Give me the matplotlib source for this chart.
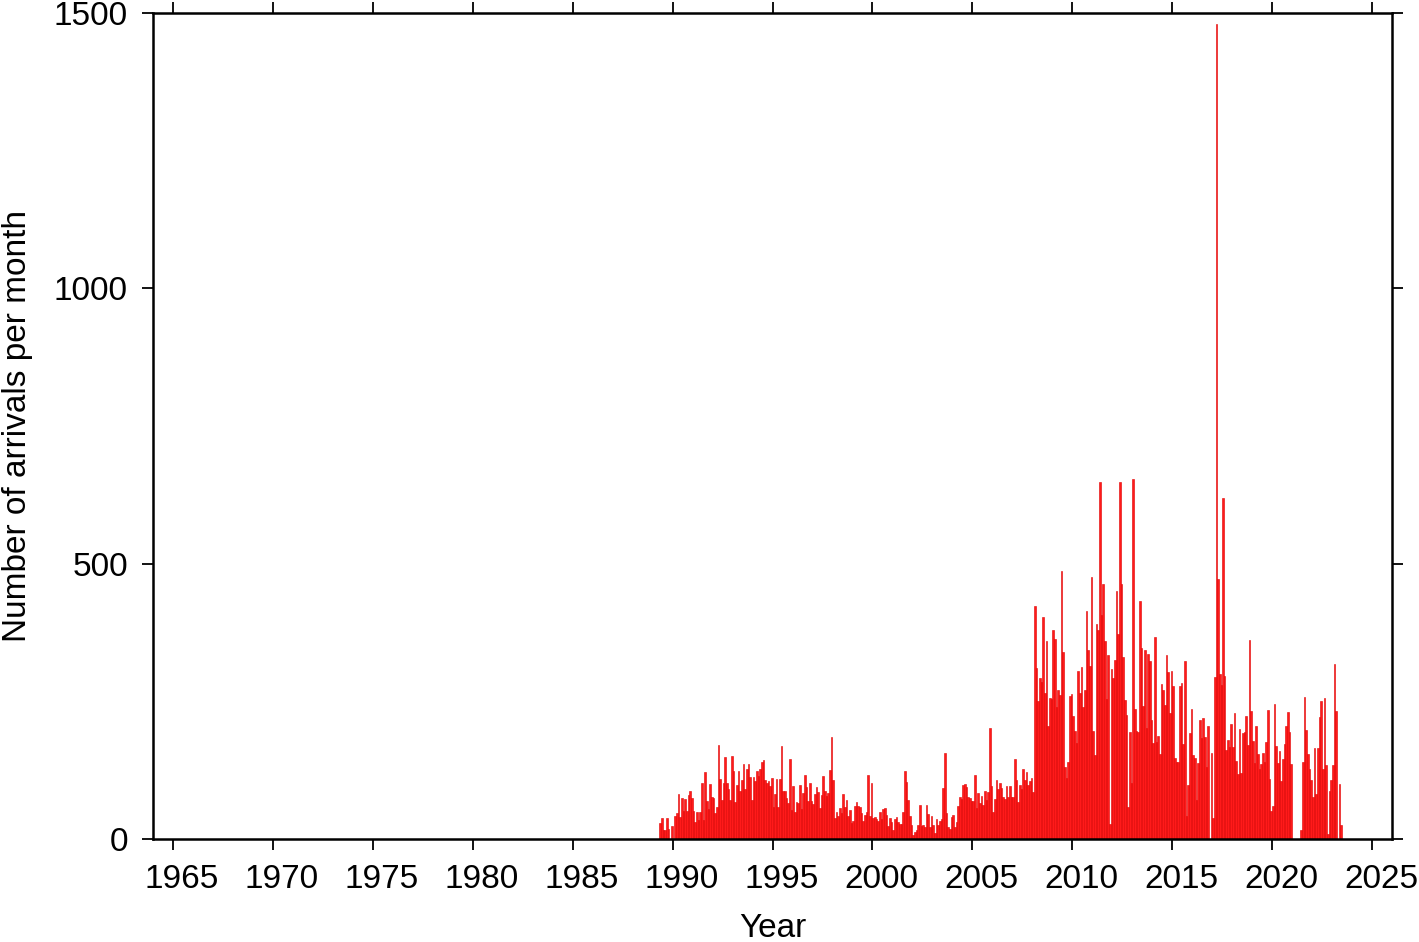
import numpy as np
import matplotlib
matplotlib.use("Agg")
from matplotlib import pyplot as plt
import matplotlib.transforms as mtransforms

plt.rcParams['font.family'] = ['Liberation Sans', 'DejaVu Sans']

# monthly arrival counts, one row per year, Jan..Dec (data start 1989)
first_year = 1989
counts_1989_1995 = [
    [0, 0, 0, 0, 30, 38, 17, 17, 38, 18, 0, 23],
    [0, 42, 48, 82, 40, 75, 51, 73, 51, 80, 87, 74],
    [51, 31, 49, 35, 49, 102, 35, 122, 69, 54, 100, 76],
    [74, 48, 58, 170, 109, 71, 102, 149, 102, 91, 70, 151],
    [123, 68, 99, 123, 88, 107, 136, 90, 128, 136, 113, 71],
    [112, 106, 123, 114, 128, 139, 144, 108, 101, 106, 96, 111],
    [58, 82, 109, 58, 109, 169, 88, 88, 75, 66, 145, 52],
]
counts_1996_2002 = [
    [96, 50, 67, 65, 99, 54, 83, 117, 94, 69, 102, 69],
    [64, 81, 94, 85, 56, 80, 114, 88, 78, 84, 125, 185],
    [108, 39, 49, 42, 57, 48, 81, 58, 71, 42, 53, 30],
    [32, 60, 67, 60, 59, 47, 33, 44, 49, 117, 42, 102],
    [38, 40, 37, 32, 50, 37, 54, 56, 44, 24, 38, 31],
    [16, 37, 40, 31, 28, 27, 50, 123, 103, 70, 42, 26],
    [8, 12, 16, 26, 61, 24, 25, 22, 61, 45, 22, 41],
]
counts_2003_2009 = [
    [26, 11, 36, 26, 32, 36, 92, 157, 47, 22, 18, 40],
    [44, 22, 31, 60, 76, 72, 99, 100, 94, 76, 75, 69],
    [69, 116, 56, 83, 66, 78, 62, 87, 70, 85, 202, 97],
    [49, 72, 108, 90, 101, 92, 77, 73, 96, 76, 96, 77],
    [76, 145, 107, 67, 99, 90, 127, 107, 122, 99, 106, 110],
    [85, 423, 311, 251, 292, 285, 403, 266, 360, 206, 257, 254],
    [379, 364, 240, 271, 262, 486, 340, 130, 110, 140, 260, 264],
]
counts_2010_2016 = [
    [223, 197, 174, 305, 265, 312, 240, 271, 414, 343, 315, 476],
    [197, 152, 390, 380, 648, 406, 463, 360, 254, 334, 27, 309],
    [292, 325, 450, 372, 649, 463, 330, 252, 225, 58, 194, 102],
    [653, 236, 197, 195, 432, 346, 242, 343, 202, 336, 323, 217],
    [174, 366, 177, 188, 155, 281, 271, 244, 334, 303, 229, 305],
    [278, 148, 139, 140, 278, 283, 173, 323, 41, 98, 192, 237],
    [153, 147, 70, 138, 217, 184, 219, 186, 130, 206, 0, 156],
]
counts_2017_2023 = [
    [38, 294, 1480, 473, 300, 280, 620, 296, 162, 179, 168, 209],
    [167, 228, 141, 119, 200, 120, 193, 194, 223, 171, 361, 232],
    [178, 138, 206, 154, 127, 136, 156, 139, 176, 234, 109, 51],
    [60, 246, 169, 138, 159, 105, 145, 173, 205, 231, 194, 137],
    [0, 0, 0, 0, 0, 16, 139, 258, 198, 154, 128, 108],
    [77, 166, 82, 166, 222, 251, 127, 256, 134, 10, 87, 107],
    [134, 317, 232, 0, 100, 26],
]

x_ticks = list(range(1965, 2026, 5))
y_ticks = [0, 500, 1000, 1500]

counts = []
for block in [counts_1989_1995, counts_1996_2002, counts_2003_2009,
              counts_2010_2016, counts_2017_2023]:
    for row in block:
        counts.extend(row)
counts = np.array(counts, dtype=float)
months = first_year + np.arange(len(counts)) / 12.0

fig = plt.figure(figsize=(14.19, 9.42), dpi=100)
ax = fig.add_axes([0.1078, 0.1093, 0.981 - 0.1078, 0.9862 - 0.1093])

ax.bar(months, counts, width=1 / 12.0, align='edge', color='#ff1a1a',
       edgecolor='#e00000', linewidth=0.4)

ax.set_xlim(1964, 2026)
ax.set_ylim(0, 1500)
ax.set_xticks(x_ticks)
ax.set_yticks(y_ticks)
ax.tick_params(direction='out', length=8, width=1.3, labelsize=24,
               top=True, right=True)
ax.tick_params(axis='x', pad=10)
ax.tick_params(axis='y', pad=10)
for s in ax.spines.values():
    s.set_linewidth(1.8)

# year annotations sit a little to the right of their ticks in the original
shift = mtransforms.ScaledTranslation(9 / 100, 0, fig.dpi_scale_trans)
for lbl in ax.get_xticklabels():
    lbl.set_transform(lbl.get_transform() + shift)

ax.set_xlabel('Year', fontsize=24, labelpad=13)
ax.set_ylabel('Number of arrivals per month', fontsize=24, labelpad=15)

fig.savefig('out.png', dpi=100)
